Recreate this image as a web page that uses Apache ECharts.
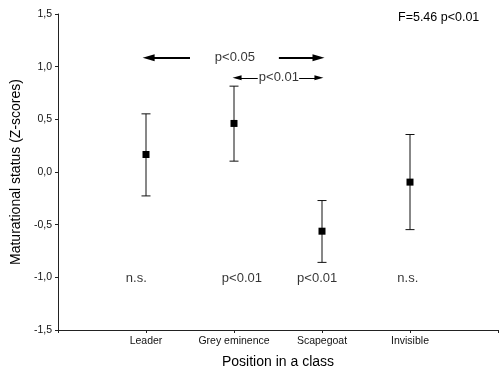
<!DOCTYPE html>
<html><head><meta charset="utf-8">
<script src="https://cdn.jsdelivr.net/npm/echarts@6/dist/echarts.min.js"></script>
<style>html,body{margin:0;padding:0;background:#fff}#c{width:500px;height:368px}</style>
</head><body><div id="c"></div>
<script>
const categories = ['Leader', 'Grey eminence', 'Scapegoat', 'Invisible'];
const means = [0.166, 0.461, -0.562, -0.096];
const upper = [0.552, 0.815, -0.271, 0.356];
const lower = [-0.227, 0.103, -0.858, -0.547];
const bottomNotes = ['n.s.', 'p<0.01', 'p<0.01', 'n.s.'];
const noteX = [0.89, 2.09, 2.945, 3.975];
const noteLevel = -1.01;
const yTicks = [-1.5, -1.0, -0.5, 0.0, 0.5, 1.0, 1.5];
// comparison arrows: [xStart, xEnd, y] in axis units (arrow head centred at xEnd)
const arrows05 = [[1.50, 1.03, 1.085], [2.51, 2.96, 1.085]];
const arrows01 = [[2.27, 2.035, 0.894], [2.74, 2.965, 0.894]];
const compLabels = [[2.01, 1.085, 'p<0.05'], [2.51, 0.894, 'p<0.01']];
const statText = 'F=5.46 p<0.01';

const chart = echarts.init(document.getElementById('c'), null, {renderer: 'canvas'});
const FONT = 'Liberation Sans, Arial, sans-serif';
const xPos = categories.map((c, i) => i + 1);

function lineData(arr) {
  return arr.map(a => ({coords: [[a[0], a[2]], [a[1], a[2]]]}));
}

const option = {
  animation: false,
  backgroundColor: '#fff',
  grid: {left: 58, right: 2, top: 14, bottom: 38, containLabel: false, outerBoundsMode: 'none'},
  xAxis: {
    type: 'value', min: 0, max: 5, interval: 1,
    name: 'Position in a class', nameLocation: 'middle', nameGap: 25,
    nameTextStyle: {fontFamily: FONT, fontSize: 14, color: '#000'},
    axisLine: {show: true, onZero: false, lineStyle: {color: '#222', width: 1}},
    axisTick: {show: true, length: 3, lineStyle: {color: '#222'}},
    axisLabel: {fontFamily: FONT, fontSize: 10.5, color: '#111', margin: 6,
      formatter: v => (v >= 1 && v <= categories.length) ? categories[v - 1] : ''},
    splitLine: {show: false}
  },
  yAxis: {
    type: 'value', min: -1.5, max: 1.5, interval: 0.5,
    name: 'Maturational status (Z-scores)', nameLocation: 'middle', nameGap: 28,
    nameTextStyle: {fontFamily: FONT, fontSize: 14, color: '#000'},
    axisLine: {show: true, onZero: false, lineStyle: {color: '#222', width: 1}},
    axisTick: {show: true, length: 3, lineStyle: {color: '#222'}},
    axisLabel: {fontFamily: FONT, fontSize: 10.5, color: '#111', margin: 6,
      formatter: v => v.toFixed(1).replace('.', ',')},
    splitLine: {show: false}
  },
  series: [
    {
      type: 'custom',
      data: xPos.map((x, i) => [x, lower[i], upper[i], means[i]]),
      renderItem: function (params, api) {
        const x = api.value(0);
        const lo = api.coord([x, api.value(1)]);
        const hi = api.coord([x, api.value(2)]);
        const m = api.coord([x, api.value(3)]);
        const cap = 4.5;
        const st = {stroke: '#111', lineWidth: 1};
        return {
          type: 'group',
          children: [
            {type: 'line', shape: {x1: lo[0], y1: lo[1], x2: hi[0], y2: hi[1]}, style: st},
            {type: 'line', shape: {x1: hi[0] - cap, y1: hi[1], x2: hi[0] + cap, y2: hi[1]}, style: st},
            {type: 'line', shape: {x1: lo[0] - cap, y1: lo[1], x2: lo[0] + cap, y2: lo[1]}, style: st},
            {type: 'rect', shape: {x: m[0] - 3.5, y: m[1] - 3.5, width: 7, height: 7}, style: {fill: '#000'}}
          ]
        };
      },
      z: 5
    },
    {
      type: 'scatter', symbolSize: 0,
      data: noteX.map((x, i) => ({value: [x, noteLevel], label: {formatter: bottomNotes[i]}})),
      label: {show: true, position: 'inside', fontFamily: FONT, fontSize: 13, color: '#000'},
      silent: true
    },
    {
      type: 'scatter', symbolSize: 0,
      data: compLabels.map(c => ({value: [c[0], c[1]], label: {formatter: c[2]}})),
      label: {show: true, position: 'inside', fontFamily: FONT, fontSize: 13, color: '#000'},
      silent: true
    },
    {
      type: 'lines', coordinateSystem: 'cartesian2d',
      data: lineData(arrows05),
      symbol: ['none', 'triangle'], symbolSize: [0, [7, 12]],
      lineStyle: {color: '#000', width: 2, opacity: 1, curveness: 0},
      silent: true
    },
    {
      type: 'lines', coordinateSystem: 'cartesian2d',
      data: lineData(arrows01),
      symbol: ['none', 'triangle'], symbolSize: [0, [5, 9]],
      lineStyle: {color: '#000', width: 1, opacity: 1, curveness: 0},
      silent: true
    }
  ],
  graphic: [
    {type: 'text', left: 398, top: 11, style: {text: statText, fontFamily: FONT, fontSize: 12.5, fill: '#000'}}
  ]
};
chart.setOption(option);
</script>
</body></html>
